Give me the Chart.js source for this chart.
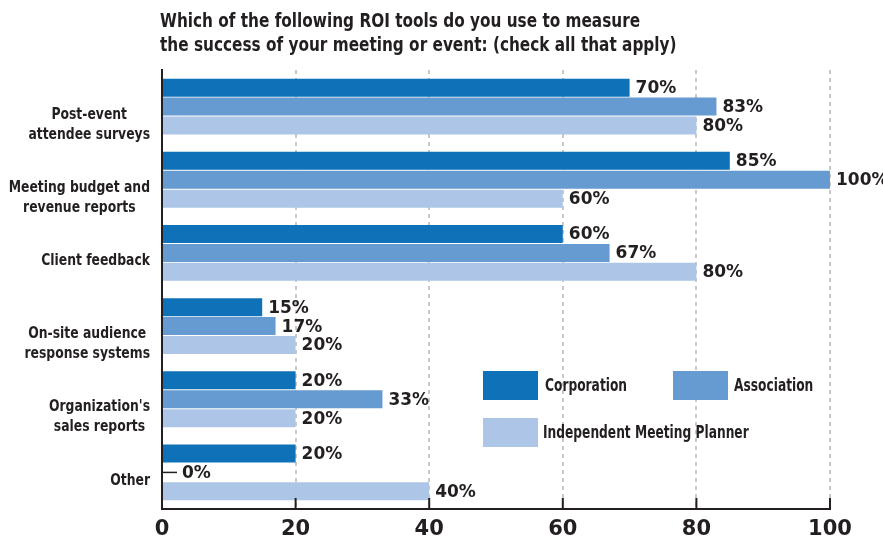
<!DOCTYPE html>
<html>
<head>
<meta charset="utf-8">
<script src="https://cdn.jsdelivr.net/npm/chart.js@4.4.1/dist/chart.umd.min.js"></script>
<style>
  body { margin: 0; background: #fff; }
  #wrap { width: 883px; height: 538px; }
</style>
</head>
<body>
<div id="wrap"><canvas id="myChart"></canvas></div>
<script>
var categorie = [
    ['Post-event', 'attendee surveys'],
    ['Meeting budget and', 'revenue reports'],
    ['Client feedback'],
    ['On-site audience', 'response systems'],
    ["Organization's", 'sales reports'],
    ['Other']
];
var corporation = [70, 85, 60, 15, 20, 20];
var association = [83, 100, 67, 17, 33, 0];
var planner = [80, 60, 80, 20, 20, 40];
var tickValori = [0, 20, 40, 60, 80, 100];
var titolo = ['Which of the following ROI tools do you use to measure',
              'the success of your meeting or event: (check all that apply)'];

var narrow = '"DejaVu Sans Condensed", "Liberation Sans Narrow", sans-serif';
var largo = '"DejaVu Sans", sans-serif';
var testo = '#231f20';

// testo "condensato" schiacciando in orizzontale
function scriviStretto(ctx, str, x, y, align, sx) {
    ctx.save();
    ctx.translate(x, y);
    ctx.scale(sx, 1);
    ctx.textAlign = align;
    ctx.fillText(str, 0, 0);
    ctx.restore();
}

// titolo, etichette, valori e legenda disegnati a mano
var extraPlugin = {
    id: 'extra',
    afterDatasetsDraw: function (chart) {
        var ctx = chart.ctx;
        var area = chart.chartArea;
        var x = chart.scales.x;
        var y = chart.scales.y;
        ctx.save();
        ctx.fillStyle = testo;
        // titolo
        ctx.textBaseline = 'alphabetic';
        ctx.font = 'bold 19px ' + narrow;
        titolo.forEach(function (riga, k) {
            scriviStretto(ctx, riga, 160, 27 + k * 24, 'left', 0.895);
        });
        // tacche sull'asse x (verso l'interno)
        ctx.strokeStyle = testo;
        ctx.lineWidth = 2;
        tickValori.forEach(function (v) {
            var px = x.getPixelForValue(v);
            ctx.beginPath();
            ctx.moveTo(px, area.bottom);
            ctx.lineTo(px, area.bottom - 11);
            ctx.stroke();
        });
        // valori a fine barra
        ctx.font = 'bold 17px ' + largo;
        ctx.textBaseline = 'middle';
        ctx.textAlign = 'left';
        chart.data.datasets.forEach(function (ds, i) {
            var meta = chart.getDatasetMeta(i);
            meta.data.forEach(function (bar, j) {
                var val = ds.data[j];
                var xs = bar.x + 6;
                if (val === 0) {
                    ctx.lineWidth = 1.5;
                    ctx.beginPath();
                    ctx.moveTo(area.left, bar.y);
                    ctx.lineTo(area.left + 15, bar.y);
                    ctx.stroke();
                    xs = area.left + 20;
                }
                ctx.fillText(val + '%', xs, bar.y + 1);
            });
        });
        // etichette categorie
        var sy = 0.86;
        ctx.font = 'bold 16px ' + narrow;
        categorie.forEach(function (lab, i) {
            var py = y.getPixelForValue(i);
            var w = 0;
            lab.forEach(function (l) { w = Math.max(w, ctx.measureText(l).width * sy); });
            var cx = 150 - w / 2;
            lab.forEach(function (l, k) {
                scriviStretto(ctx, l, cx, py + 8 + k * 20, 'center', sy);
            });
        });
        // legenda
        var voci = [
            { x: 483, y: 371, tx: 545 },
            { x: 673, y: 371, tx: 734 },
            { x: 483, y: 418, tx: 543 }
        ];
        ctx.font = 'bold 17px ' + narrow;
        chart.data.datasets.forEach(function (ds, i) {
            var v = voci[i];
            ctx.fillStyle = ds.backgroundColor;
            ctx.fillRect(v.x, v.y, 55, 29);
            ctx.fillStyle = testo;
            scriviStretto(ctx, ds.label, v.tx, v.y + 16, 'left', 0.8);
        });
        ctx.restore();
    }
};

var ctx = document.getElementById('myChart');
var chart = new Chart(ctx, {
    type: 'bar',
    data: {
        labels: categorie,
        datasets: [
            { label: 'Corporation', data: corporation, backgroundColor: '#0f72b9' },
            { label: 'Association', data: association, backgroundColor: '#659bd0' },
            { label: 'Independent Meeting Planner', data: planner, backgroundColor: '#adc6e7' }
        ]
    },
    options: {
        indexAxis: 'y',
        responsive: true,
        maintainAspectRatio: false,
        animation: false,
        categoryPercentage: 0.775,
        barPercentage: 0.95,
        layout: { padding: { left: 0, right: 53, top: 70, bottom: 0 } },
        plugins: {
            legend: { display: false },
            tooltip: { enabled: false },
            title: { display: false }
        },
        scales: {
            x: {
                min: 0,
                max: 100,
                afterBuildTicks: function (axis) {
                    axis.ticks = tickValori.map(function (v) { return { value: v }; });
                },
                afterFit: function (axis) { axis.height = 29; },
                grid: {
                    color: '#c8c8c8',
                    lineWidth: 2,
                    drawTicks: false
                },
                border: { display: true, color: testo, width: 2, dash: [4, 4] },
                ticks: {
                    color: testo,
                    padding: 8,
                    font: { family: largo, size: 21, weight: 'bold' }
                }
            },
            y: {
                afterFit: function (axis) { axis.width = 162; },
                grid: { display: false },
                border: { display: true, color: testo, width: 2 },
                ticks: { display: false }
            }
        }
    },
    plugins: [extraPlugin]
});
</script>
</body>
</html>
